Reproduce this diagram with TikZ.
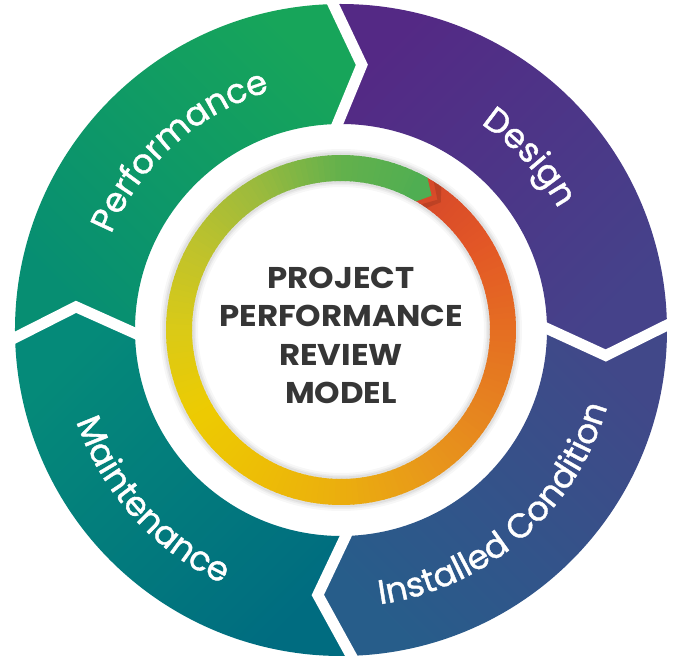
\documentclass[tikz,border=0pt]{standalone}
\usepackage{fontspec}
\setmainfont{Poppins}
\newfontfamily\lblfam{Poppins}[FakeBold=1.2]
\usetikzlibrary{decorations.text}
\definecolor{perfA}{HTML}{17A55A}
\definecolor{perfB}{HTML}{078E72}
\definecolor{desA}{HTML}{542985}
\definecolor{desB}{HTML}{45428A}
\definecolor{insA}{HTML}{414889}
\definecolor{insB}{HTML}{275D8A}
\definecolor{maiA}{HTML}{058A79}
\definecolor{maiB}{HTML}{006C80}
\definecolor{titlegray}{HTML}{363636}
\definecolor{r0}{HTML}{4FAE52}
\definecolor{r1}{HTML}{63B14C}
\definecolor{r2}{HTML}{9ABA3E}
\definecolor{r3}{HTML}{BEC22C}
\definecolor{r4}{HTML}{DACA17}
\definecolor{r5}{HTML}{EDCB02}
\definecolor{r6}{HTML}{EDBE06}
\definecolor{r7}{HTML}{EBAE0E}
\definecolor{r8}{HTML}{E8991A}
\definecolor{r9}{HTML}{E6841F}
\definecolor{r10}{HTML}{E56E22}
\definecolor{r11}{HTML}{E35826}
\definecolor{r12}{HTML}{D6482A}
\newcommand{\lblfont}{\lblfam\fontsize{34}{34}\selectfont}
\tikzset{
  gapline/.style={draw=white, line width=11pt, line join=miter, miter limit=10},
  arclabel/.style={decorate, decoration={text along path, text align=center, text color=white}}
}
\begin{document}
\begin{tikzpicture}[x=1pt,y=1pt]
\useasboundingbox (-341,-328) rectangle (337,330);
\fill[white] (-341,-328) rectangle (337,330);

% outer segments
\shade[top color=perfA, bottom color=perfB, shading angle=-45]
  (182:326) arc[start angle=182,end angle=92,radius=326] -- (85.5:266) -- (92:206)
  arc[start angle=92,end angle=182,radius=206] -- (175:266) -- cycle;
\shade[top color=desA, bottom color=desB, shading angle=45]
  (92:326) arc[start angle=92,end angle=1.5,radius=326] -- (-5.5:266) -- (1.5:206)
  arc[start angle=1.5,end angle=92,radius=206] -- (85.5:266) -- cycle;
\shade[top color=insA, bottom color=insB, shading angle=-45]
  (1.5:326) arc[start angle=1.5,end angle=-87.5,radius=326] -- (-95:266) -- (-87.5:206)
  arc[start angle=-87.5,end angle=1.5,radius=206] -- (-5.5:266) -- cycle;
\shade[top color=maiA, bottom color=maiB, shading angle=45]
  (-87.5:326) arc[start angle=-87.5,end angle=-178,radius=326] -- (-185:266) -- (-178:206)
  arc[start angle=-178,end angle=-87.5,radius=206] -- (-95:266) -- cycle;

% gaps
\draw[gapline] (92:334) -- (85.5:266) -- (92:198);
\draw[gapline] (1.5:334) -- (-5.5:266) -- (1.5:198);
\draw[gapline] (-87.5:334) -- (-95:266) -- (-87.5:198);
\draw[gapline] (182:334) -- (175:266) -- (182:198);

% labels
\path[arclabel, decoration={text={|\lblfont|Performance}}]
  (172:249) arc[start angle=172,end angle=92,radius=249];
\path[arclabel, decoration={text={|\lblfont|Design}}]
  (82:249) arc[start angle=82,end angle=3,radius=249];
\path[arclabel, decoration={text={|\lblfont|Installed Condition}}]
  (-100:277) arc[start angle=-100,end angle=2,radius=277];
\path[arclabel, decoration={text={|\lblfont|Maintenance}}]
  (180:280) arc[start angle=180,end angle=264,radius=280];

% soft shadow of the inner ring
\foreach \w/\o in {10/0.03,6/0.04,3/0.05}{
  \draw[black, opacity=\o, line width=\w pt] (0,0) circle[radius=176];
  \draw[black, opacity=\o, line width=\w pt] (0,0) circle[radius=148];
}

% conic gradient ring
\foreach \a/\ca/\cb in {60/r0/r1,90/r1/r2,120/r2/r3,150/r3/r4,180/r4/r5,210/r5/r6,
                         240/r6/r7,270/r7/r8,300/r8/r9,330/r9/r10,360/r10/r11,390/r11/r12}{
  \foreach \s in {0,...,14}{
    \pgfmathsetmacro\p{(\s+0.5)/15*100}
    \pgfmathsetmacro\st{\a+\s*2}
    \pgfmathsetmacro\en{\st+2.5}
    \fill[\cb!\p!\ca] (\st:175) arc[start angle=\st,end angle=\en,radius=175]
      -- (\en:149) arc[start angle=\en,end angle=\st,radius=149] -- cycle;
  }
}
% green tip
\fill[black, opacity=0.12] (58:175) -- (53.5:162) -- (57.5:149) -- (55:149) -- (52:162) -- (55:175) -- cycle;
\fill[r0] (64:175) arc[start angle=64,end angle=60.4,radius=175] -- (56:162) -- (59.7:149)
  arc[start angle=59.7,end angle=64,radius=149] -- cycle;

% title
\node[font=\bfseries\fontsize{30}{38.5}\selectfont, text=titlegray, align=center, xscale=1.08]
  (title) at (0,-5.5) {PROJECT\\PERFORMANCE\\REVIEW\\MODEL};
\end{tikzpicture}
\end{document}
